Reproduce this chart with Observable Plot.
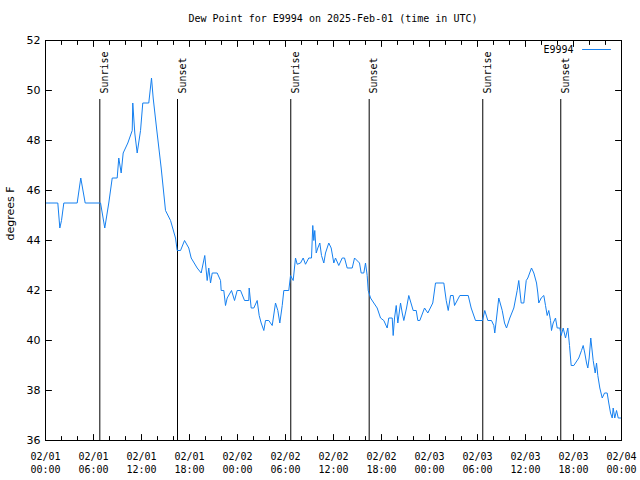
<!DOCTYPE html>
<html><head><meta charset="utf-8">
<script src="https://cdn.jsdelivr.net/npm/d3@7"></script>
<script src="https://cdn.jsdelivr.net/npm/@observablehq/plot@0.6"></script>
<style>
body{margin:0;background:#fff;}
#title{width:640px;height:30px;box-sizing:border-box;padding:13px 19px 0 45px;text-align:center;font:10px/12px "DejaVu Sans Mono",monospace;color:#000;}
</style></head><body>
<div id="title">Dew Point for E9994 on 2025-Feb-01 (time in UTC)</div>
<div id="chart"></div>
<script>
// Hours since 2025-02-01 00:00 UTC
const hours = [0,1.54,1.79,2.0,2.29,3.96,4.41,4.96,6.88,7.41,
7.91,8.34,8.96,9.16,9.46,9.71,10.29,10.84,10.91,11.16,
11.46,11.88,12.16,12.91,13.25,13.46,13.88,14.46,15.0,15.63,
16.25,16.46,16.88,17.38,17.91,18.21,18.96,19.46,19.91,20.21,
20.41,20.63,20.84,21.46,21.88,21.96,22.29,22.5,22.71,23.25,
23.63,23.96,24.38,24.88,25.41,25.46,25.71,26.04,26.46,26.71,
26.96,27.29,27.5,27.91,28.34,28.75,29.04,29.29,29.59,29.79,
30.41,30.63,30.96,31.25,31.46,31.88,32.21,32.5,32.91,33.25,
33.41,33.54,33.66,33.84,34.04,34.29,34.5,34.79,35.0,35.41,
35.71,36.04,36.25,36.66,37.09,37.38,37.71,38.34,38.63,39.25,
39.46,39.79,40.0,40.21,40.34,40.63,41.04,41.46,41.88,42.29,
42.71,42.91,43.34,43.46,43.63,43.84,44.04,44.38,44.59,44.79,
45.13,45.41,45.96,46.34,46.54,46.79,47.38,47.79,48.41,48.75,
49.79,50.09,50.34,50.63,50.96,51.13,51.79,52.84,53.21,53.75,
54.63,54.91,55.29,55.75,56.04,56.16,56.38,56.66,57.09,57.38,
57.63,58.04,58.54,58.96,59.16,59.46,59.79,60.09,60.29,60.75,
61.04,61.38,61.54,61.66,61.96,62.29,62.5,62.71,62.91,63.13,
63.25,63.46,63.75,63.96,64.29,64.46,64.71,65.0,65.29,65.5,
65.71,66.04,66.66,67.0,67.21,67.41,67.63,67.79,67.96,68.16,
68.46,68.71,68.88,69.04,69.29,69.59,69.88,70.21,70.41,70.63,
70.84,70.96,71.16,71.38,71.59,71.88];
const dewPoint = [45.5,45.5,44.5,44.8,45.5,45.5,46.5,45.5,45.5,44.5,
45.5,46.5,46.5,47.3,46.7,47.5,47.9,48.4,49.5,48.3,
47.5,48.4,49.5,49.5,50.5,49.7,48.5,46.9,45.2,44.8,
44.1,43.6,43.6,44.0,43.7,43.3,42.9,42.7,43.4,42.4,
42.9,42.3,42.7,42.7,42.4,42.0,42.0,41.4,41.7,42.0,
41.6,42.0,42.0,41.6,41.6,42.1,41.3,41.3,41.6,41.0,
40.7,40.4,40.8,40.8,40.6,41.5,41.2,40.7,41.4,42.0,
42.0,42.6,42.4,43.3,43.05,43.1,43.3,43.05,43.3,43.3,
44.6,44.0,44.4,43.5,43.7,43.9,43.4,43.1,43.5,43.9,
43.7,43.1,43.3,43.0,43.3,43.3,42.9,42.9,43.3,43.1,
42.7,42.7,43.1,42.6,42.0,41.7,41.5,41.3,40.9,40.8,
40.5,40.9,40.9,40.2,40.9,41.4,40.7,41.5,41.1,40.8,
41.3,41.8,41.2,41.2,40.8,40.8,41.3,41.1,41.5,42.3,
42.3,41.6,41.2,41.8,41.8,41.4,41.8,41.8,41.3,40.8,
40.8,41.2,40.8,40.8,40.6,40.3,40.9,41.7,41.2,40.7,
40.5,40.9,41.3,42.0,42.4,41.5,41.5,42.4,42.5,42.9,
42.7,42.3,41.9,41.5,41.7,41.8,41.4,41.0,41.2,40.8,
40.4,40.7,40.9,40.5,40.5,40.2,40.5,40.1,40.5,39.8,
39.0,39.0,39.3,39.6,39.8,39.5,39.1,38.9,39.3,40.1,
39.2,38.7,39.1,38.6,38.1,37.7,37.9,37.9,37.5,37.1,
36.9,37.3,36.9,37.2,36.9,36.9];
const seriesName = "E9994";
const eventNames = ["Sunrise","Sunset","Sunrise","Sunset","Sunrise","Sunset"];
const eventHours = [6.79, 16.5, 30.66, 40.46, 54.66, 64.41];
const yTicks = [36,38,40,42,44,46,48,50,52];
const yLabel = "degrees F";

const lineColor = "#1580f0";
const mono = "DejaVu Sans Mono";
const base = Date.UTC(2025, 1, 1);
const toDate = h => new Date(base + h * 3600000);
const data = hours.map((h, i) => ({time: toDate(h), value: dewPoint[i]}));
const events = eventNames.map((name, i) => ({name, time: toDate(eventHours[i])}));
const xDomain = [toDate(0), toDate(72)];
const majorTicks = d3.utcHour.every(6).range(xDomain[0], new Date(+xDomain[1] + 1));
const minorTicks = d3.utcHour.every(2).range(xDomain[0], new Date(+xDomain[1] + 1)).filter(d => d.getUTCHours() % 6 !== 0);
const tickShape = {draw(ctx, l) { ctx.moveTo(0, 0); ctx.lineTo(0, -l); }};
const tickOpts = (anchor, rotate, length) => ({frameAnchor: anchor, rotate, length, anchor: "start", shape: tickShape, stroke: "black", strokeWidth: 1});

const chart = Plot.plot({
  width: 640, height: 450,
  marginTop: 10, marginRight: 19, marginBottom: 40, marginLeft: 45,
  style: {background: "white", color: "black"},
  x: {type: "utc", domain: xDomain},
  y: {domain: [36, 52]},
  marks: [
    Plot.axisX(majorTicks, {tickSize: 0, tickPadding: 10, tickFormat: d3.utcFormat("%m/%d\n%H:%M"), fontFamily: mono, fontSize: 10, lineHeight: 1.3, label: null}),
    Plot.axisY(yTicks, {tickSize: 0, tickPadding: 5, fontFamily: "DejaVu Sans", fontSize: 11, label: null}),
    Plot.text([yLabel], {frameAnchor: "left", rotate: -90, dx: -35, text: d => d, fontFamily: "DejaVu Sans", fontSize: 11}),
    Plot.vectorX(majorTicks, tickOpts("bottom", 0, 6)),
    Plot.vectorX(minorTicks, tickOpts("bottom", 0, 4)),
    Plot.vectorX(majorTicks, tickOpts("top", 180, 6)),
    Plot.vectorX(minorTicks, tickOpts("top", 180, 4)),
    Plot.vectorY(yTicks, tickOpts("left", 90, 6)),
    Plot.vectorY(yTicks, tickOpts("right", -90, 6)),
    Plot.ruleX(events, {x: "time", insetTop: 59, stroke: "black", strokeWidth: 1}),
    Plot.text(events, {x: "time", text: "name", frameAnchor: "top", rotate: -90, textAnchor: "start", dy: 53, dx: 1, fontFamily: mono, fontSize: 10}),
    Plot.line(data, {x: "time", y: "value", stroke: lineColor, strokeWidth: 1}),
    Plot.text([seriesName], {frameAnchor: "top-right", dx: -48, dy: 9, textAnchor: "end", lineAnchor: "middle", text: d => d, fontFamily: mono, fontSize: 10}),
    Plot.vector([seriesName], {frameAnchor: "top-right", dx: -39, dy: 9, rotate: 90, length: 28, anchor: "start", shape: tickShape, stroke: lineColor, strokeWidth: 1}),
    Plot.frame({stroke: "black", strokeWidth: 1})
  ]
});
document.getElementById("chart").appendChild(chart);
</script>
</body></html>
